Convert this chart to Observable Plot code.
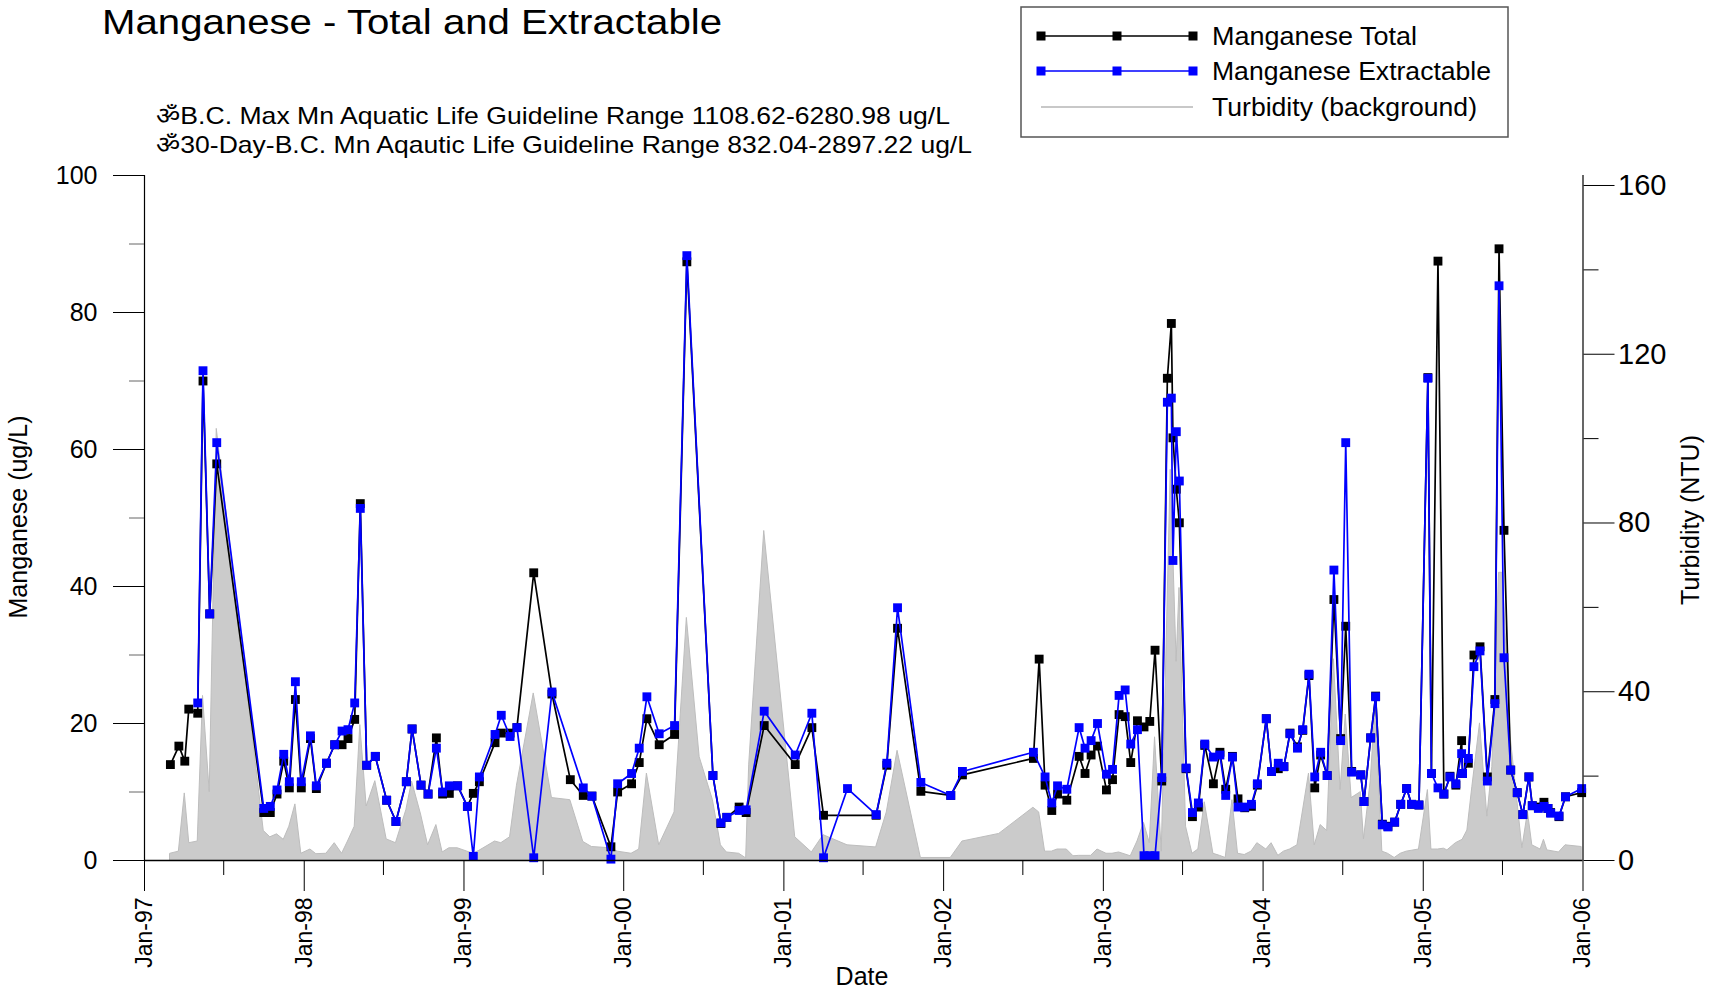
<!DOCTYPE html>
<html><head><meta charset="utf-8">
<script src="https://cdn.jsdelivr.net/npm/d3@7"></script>
<script src="https://cdn.jsdelivr.net/npm/@observablehq/plot@0.6"></script>
<style>
body{margin:0;background:#fff;}
#wrap{position:relative;width:1716px;height:990px;}
#overlay{position:absolute;left:0;top:0;pointer-events:none;}
</style>
</head><body><div id="wrap"></div>
<script>
// Sample dates as decimal years
const sampleYear = [
1997.162,1997.215,1997.252,1997.277,1997.333,1997.366,1997.408,1997.452,1997.746,1997.787,
1997.829,1997.871,1997.906,1997.944,1997.981,1998.038,1998.075,1998.138,1998.190,1998.236,
1998.273,1998.315,1998.350,1998.390,1998.444,1998.515,1998.573,1998.638,1998.674,1998.730,
1998.774,1998.826,1998.865,1998.907,1998.959,1999.020,1999.057,1999.095,1999.193,1999.232,
1999.287,1999.330,1999.435,1999.549,1999.664,1999.745,1999.799,1999.918,1999.960,2000.047,
2000.095,2000.143,2000.220,2000.316,2000.393,2000.556,2000.606,2000.643,2000.720,2000.764,
2000.877,2001.071,2001.175,2001.248,2001.398,2001.577,2001.644,2001.711,2001.857,2002.044,
2002.117,2002.561,2002.597,2002.634,2002.676,2002.712,2002.770,2002.847,2002.884,2002.922,
2002.962,2003.018,2003.056,2003.097,2003.135,2003.170,2003.212,2003.253,2003.289,2003.322,
2003.364,2003.399,2003.424,2003.434,2003.455,2003.474,2003.516,2003.556,2003.593,2003.633,
2003.687,2003.728,2003.764,2003.806,2003.841,2003.883,2003.925,2003.962,2004.018,2004.051,
2004.093,2004.128,2004.166,2004.213,2004.246,2004.285,2004.321,2004.358,2004.399,2004.441,
2004.483,2004.515,2004.552,2004.609,2004.629,2004.671,2004.702,2004.744,2004.779,2004.821,
2004.859,2004.896,2004.927,2004.973,2005.029,2005.051,2005.092,2005.129,2005.167,2005.204,
2005.240,2005.246,2005.282,2005.317,2005.355,2005.401,2005.448,2005.474,2005.505,2005.547,
2005.588,2005.623,2005.661,2005.682,2005.720,2005.755,2005.780,2005.797,2005.849,2005.890,
2005.991];

// Manganese Total (ug/L)
const mnTotal = [
14.0,16.7,14.5,22.1,21.5,70.0,36.0,57.9,7.0,7.0,
9.7,14.5,10.6,23.5,10.6,17.8,10.5,14.2,16.9,16.9,
17.8,20.6,52.1,13.9,15.2,8.8,5.7,11.5,19.2,11.0,
9.7,17.9,9.7,9.8,10.9,7.9,9.8,11.5,17.2,18.6,
18.6,19.4,42.0,24.3,11.8,9.5,9.4,2.0,10.0,11.2,
14.3,20.7,16.9,18.4,87.4,12.4,5.4,6.3,7.8,7.0,
19.7,14.0,19.4,6.6,null,6.6,13.9,33.9,10.1,9.5,
12.5,14.9,29.4,11.0,7.3,9.7,8.8,15.2,12.7,15.4,
16.7,10.3,11.8,21.3,21.0,14.3,20.4,19.5,20.3,30.7,
11.6,70.4,78.4,61.7,54.2,49.3,13.4,6.4,7.8,16.8,
11.2,15.8,10.4,15.2,9.0,7.7,7.9,11.0,20.7,13.0,
13.4,13.7,18.6,16.6,19.0,27.0,10.6,15.4,12.4,38.1,
17.8,34.2,13.0,12.5,8.6,17.9,24.0,5.3,5.0,5.6,
8.2,10.5,8.2,8.1,70.5,12.7,87.5,9.7,12.3,11.0,
17.5,12.7,14.2,30.0,31.2,12.2,23.5,89.3,48.2,13.2,
9.9,6.7,12.2,8.0,7.8,8.5,7.6,7.0,6.4,9.3,
9.9];

// Manganese Extractable (ug/L)
const mnExtractable = [
null,null,null,null,23.0,71.5,36.0,61.0,7.6,7.9,
10.3,15.5,11.5,26.1,11.5,18.2,10.9,14.2,16.9,18.9,
19.1,23.0,51.4,13.9,15.2,8.8,5.7,11.5,19.2,11.0,
9.7,16.4,10.0,10.9,10.9,7.9,0.6,12.2,18.4,21.2,
18.1,19.4,0.4,24.6,null,10.6,9.4,0.2,11.2,12.7,
16.4,23.9,18.5,19.7,88.3,12.4,5.5,6.3,7.3,7.4,
21.8,15.4,21.5,0.4,10.5,6.7,14.2,36.9,11.4,9.5,
13.0,15.8,null,12.2,8.4,10.9,10.4,19.4,16.4,17.5,
20.0,12.6,13.3,24.1,24.9,17.0,19.1,0.7,0.7,0.7,
12.1,66.9,67.5,43.8,62.6,55.4,13.5,7.0,8.4,17.0,
15.1,15.4,9.5,15.1,7.8,7.8,8.2,11.2,20.7,13.0,
14.2,13.7,18.5,16.4,19.1,27.2,12.2,15.8,12.4,42.4,
17.5,61.0,12.9,12.5,8.6,17.9,23.9,5.2,4.9,5.6,
8.2,10.5,8.2,8.1,70.4,12.7,10.6,9.7,12.2,11.2,
15.6,12.7,14.9,28.3,30.6,11.6,22.9,83.9,29.6,13.2,
9.9,6.7,12.2,8.0,7.6,7.9,7.6,6.9,6.5,9.3,
10.5];

// Turbidity (NTU), background series
const turbYear = [
1997.162,1997.215,1997.252,1997.280,1997.333,1997.366,1997.408,1997.452,1997.746,1997.787,
1997.829,1997.871,1997.906,1997.944,1997.981,1998.038,1998.075,1998.138,1998.190,1998.236,
1998.273,1998.315,1998.350,1998.390,1998.444,1998.515,1998.573,
1998.638,1998.674,1998.730,1998.774,1998.826,1998.865,1998.907,1998.959,1999.020,1999.057,
1999.095,1999.193,1999.232,1999.287,1999.330,1999.435,1999.549,1999.664,1999.745,1999.799,
1999.918,1999.960,2000.047,2000.095,2000.143,
2000.220,2000.316,2000.393,2000.473,2000.556,2000.606,2000.643,2000.720,2000.764,2000.783,
2000.877,2001.071,2001.175,2001.248,2001.398,2001.577,2001.644,2001.711,
2001.857,2002.044,2002.117,2002.347,2002.561,2002.597,2002.634,2002.676,2002.712,2002.770,
2002.812,2002.847,2002.922,2002.962,2003.018,2003.056,2003.097,2003.170,
2003.212,2003.253,2003.289,2003.322,2003.364,2003.420,2003.457,2003.475,2003.516,2003.556,
2003.593,2003.633,2003.687,2003.728,2003.764,2003.806,2003.841,2003.883,2003.925,2003.962,
2004.018,2004.051,2004.093,2004.128,2004.166,2004.213,2004.285,2004.321,2004.358,2004.399,
2004.441,2004.483,2004.515,2004.552,2004.609,2004.629,2004.671,2004.702,2004.744,2004.779,
2004.821,2004.859,2004.896,2004.927,2004.973,2005.029,2005.051,2005.092,2005.129,2005.151,
2005.204,2005.246,2005.276,2005.307,2005.355,2005.401,2005.432,2005.474,2005.495,2005.505,
2005.547,2005.620,2005.655,2005.682,2005.734,2005.755,2005.776,2005.849,2005.890,2005.991];

const turbidityNTU = [
1.6,2.1,15.9,4.1,4.5,39.0,16.2,102.3,7.0,5.5,
6.2,4.9,8.0,13.3,1.6,2.6,1.5,1.6,4.1,1.6,
4.5,8.0,32.1,12.8,18.8,5.0,4.1,
11.9,18.7,10.9,3.6,8.4,1.9,2.9,2.9,2.1,1.6,
2.3,4.5,4.1,5.5,17.7,39.6,14.8,14.3,4.4,3.2,
2.9,2.1,1.6,2.6,20.6,
3.6,11.4,57.5,24.5,14.3,3.6,1.9,1.6,0.5,22.7,
78.1,5.5,1.9,6.0,3.6,3.1,11.4,26.0,
0.6,0.6,4.5,6.3,12.5,11.4,2.1,2.1,2.6,2.6,
1.0,1.1,1.1,2.6,1.6,1.6,1.9,1.0,
4.5,8.9,4.1,29.2,2.1,92.6,47.1,64.6,8.0,1.6,
2.6,13.8,1.6,1.1,0.6,14.3,1.6,1.3,2.1,4.1,
2.6,4.1,1.1,2.1,2.6,3.6,20.6,3.6,8.4,7.0,
47.7,16.7,34.6,14.8,16.2,5.0,18.7,37.0,2.1,1.6,
0.6,1.6,2.1,2.3,2.6,16.7,2.6,2.6,2.8,2.4,
4.1,4.9,7.1,17.4,32.5,10.4,22.2,68.2,68.2,61.7,
29.2,2.9,11.5,3.6,2.6,4.9,2.4,1.9,3.6,3.2];

const yTicksMajor = [0,20,40,60,80,100];
const yTicksMinor = [10,30,50,70,90];
const ntuTicksMajor = [0,40,80,120,160];
const ntuTicksMinor = [20,60,100,140];

const titleText = "Manganese - Total and Extractable";
const noteLines = [
  "\u0950B.C. Max Mn Aquatic Life Guideline Range 1108.62-6280.98 ug/L",
  "\u095030-Day-B.C. Mn Aqautic Life Guideline Range 832.04-2897.22 ug/L"
];
const legendItems = ["Manganese Total","Manganese Extractable","Turbidity (background)"];

// ---- build ----
const t0 = Date.UTC(1997,0,1);
const toDate = y => new Date(t0 + (y - 1997) * 365.25 * 864e5);
const K = 100 / 162.37; // NTU -> left-axis units (right axis 0..162.37 NTU)

const total = sampleYear.map((y,i)=>({date: toDate(y), v: mnTotal[i]})).filter(d=>d.v!=null);
const extr = sampleYear.map((y,i)=>({date: toDate(y), v: mnExtractable[i]})).filter(d=>d.v!=null);
const turb = turbYear.map((y,i)=>({date: toDate(y), v: turbidityNTU[i]*K}));

const xMin = new Date(Date.UTC(1997,0,1)), xMax = new Date(Date.UTC(2006,0,1));
const years = d3.utcYear.range(xMin, new Date(Date.UTC(2006,0,2)));
const julys = years.slice(0,-1).map(d=>new Date(Date.UTC(d.getUTCFullYear(),6,1)));

const chart = Plot.plot({
  width: 1716, height: 990,
  marginLeft: 144, marginRight: 133.5, marginTop: 175, marginBottom: 130,
  x: {type: "utc", domain: [xMin, xMax]},
  y: {domain: [0, 100]},
  style: {fontFamily: "'Liberation Sans', Arial, sans-serif", background: "white", color: "black"},
  marks: [
    Plot.areaY(turb, {x: "date", y: "v", fill: "#cbcbcb", stroke: "#bdbdbd", strokeWidth: 1}),
    Plot.line(total, {x: "date", y: "v", stroke: "black", strokeWidth: 1.7}),
    Plot.dot(total, {x: "date", y: "v", symbol: "square", fill: "black", r: 5}),
    Plot.line(extr, {x: "date", y: "v", stroke: "#0000ff", strokeWidth: 1.7}),
    Plot.dot(extr, {x: "date", y: "v", symbol: "square", fill: "#0000ff", r: 5}),
    Plot.ruleY([0], {stroke: "black", strokeWidth: 1.5}),
    Plot.ruleX([xMin], {stroke: "black", strokeWidth: 1.2}),
    Plot.ruleX([xMax], {stroke: "black", strokeWidth: 1.2}),
    Plot.axisX({ticks: years, tickSize: 31, tickPadding: 6, tickRotate: -90,
      tickFormat: d3.utcFormat("%b-%y"), fontSize: 23, label: null}),
    Plot.axisX({ticks: julys, tickSize: 15, tickFormat: () => "", label: null}),
    Plot.axisY({ticks: yTicksMajor, tickSize: 31, tickPadding: 16, fontSize: 25, label: null}),
    Plot.axisY({ticks: yTicksMinor, tickSize: 15, tickFormat: () => "", stroke: "#666", label: null}),
    Plot.axisY({anchor: "right", ticks: ntuTicksMajor.map(v=>v*K), tickSize: 31, tickPadding: 4,
      tickFormat: d => Math.round(d / K), fontSize: 29, label: null}),
    Plot.axisY({anchor: "right", ticks: ntuTicksMinor.map(v=>v*K), tickSize: 15,
      tickFormat: () => "", label: null})
  ]
});
const wrap = document.getElementById("wrap");
wrap.appendChild(chart);

// overlay: title, notes, legend, axis titles
const svg = d3.select(wrap).append("svg").attr("id","overlay")
  .attr("width",1716).attr("height",990)
  .style("font-family","'Liberation Sans', Arial, sans-serif");
svg.append("text").attr("x",102).attr("y",34).attr("font-size",35)
  .attr("textLength",620).attr("lengthAdjust","spacingAndGlyphs").text(titleText);
svg.append("text").attr("x",156).attr("y",124).attr("font-size",24)
  .attr("textLength",794).attr("lengthAdjust","spacingAndGlyphs").text(noteLines[0]);
svg.append("text").attr("x",156).attr("y",153).attr("font-size",24)
  .attr("textLength",816).attr("lengthAdjust","spacingAndGlyphs").text(noteLines[1]);

// legend
svg.append("rect").attr("x",1021).attr("y",7).attr("width",487).attr("height",130)
  .attr("fill","white").attr("stroke","#555").attr("stroke-width",1.5);
const rows = [
  {y:36, color:"black", marks:true, w:205},
  {y:71, color:"#0000ff", marks:true, w:279},
  {y:107, color:"#c8c8c8", marks:false, w:265}
];
rows.forEach((r,i)=>{
  svg.append("line").attr("x1",1041).attr("x2",1193).attr("y1",r.y).attr("y2",r.y)
    .attr("stroke",r.color).attr("stroke-width",r.marks?1.7:2);
  if (r.marks) [1041,1117,1193].forEach(x=>svg.append("rect").attr("x",x-4.5).attr("y",r.y-4.5)
    .attr("width",9).attr("height",9).attr("fill",r.color));
  svg.append("text").attr("x",1212).attr("y",r.y+9).attr("font-size",26)
    .attr("textLength",r.w).attr("lengthAdjust","spacingAndGlyphs").text(legendItems[i]);
});

// axis titles
svg.append("text").attr("transform","translate(27,517) rotate(-90)").attr("text-anchor","middle")
  .attr("font-size",25).text("Manganese (ug/L)");
svg.append("text").attr("transform","translate(1699,520) rotate(-90)").attr("text-anchor","middle")
  .attr("font-size",25).text("Turbidity (NTU)");
svg.append("text").attr("x",862).attr("y",985).attr("text-anchor","middle")
  .attr("font-size",25).text("Date");
</script></body></html>
